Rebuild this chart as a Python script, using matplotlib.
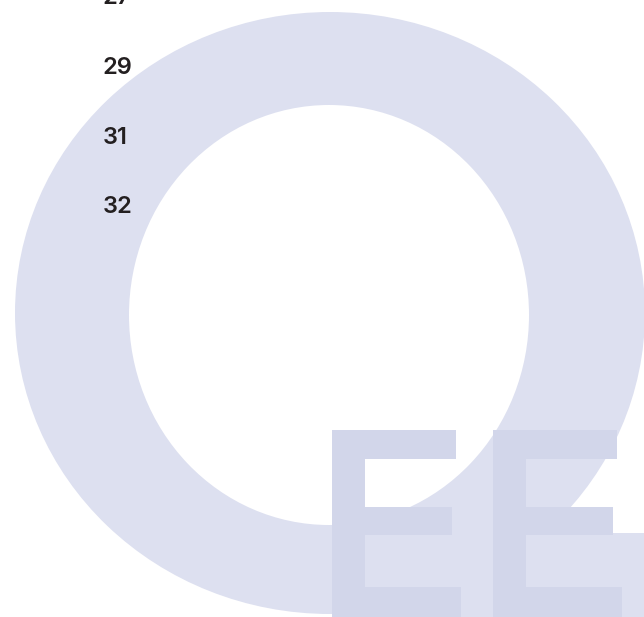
import matplotlib
matplotlib.use("Agg")
import matplotlib.pyplot as plt
from matplotlib.patches import Ellipse, Polygon, Rectangle

# ---- data ----
labels = ["27", "29", "31", "32"]
ring_outer = (330, 313, 630, 602)   # cx, cy, width, height (px)
ring_inner = (329, 315, 400, 420)
letters_x = [332, 493]              # left edge of each "E"

RING_COLOR = "#dde0f0"
LETTER_COLOR = "#d2d6ea"
TEXT_COLOR = "#231f20"

W, H = 644, 617
fig = plt.figure(figsize=(W / 100, H / 100), dpi=100)
ax = fig.add_axes([0, 0, 1, 1])
ax.set_xlim(0, W)
ax.set_ylim(H, 0)
ax.axis("off")

# ring ("O")
cx, cy, w, h = ring_outer
ax.add_patch(Ellipse((cx, cy), w, h, facecolor=RING_COLOR, edgecolor="none", zorder=1))
cx, cy, w, h = ring_inner
ax.add_patch(Ellipse((cx, cy), w, h, facecolor="white", edgecolor="none", zorder=2))
# base block at bottom right
ax.add_patch(Rectangle((400, 533), 300, 120, facecolor=RING_COLOR, edgecolor="none", zorder=2.5))

# letters "E"
def e_shape(x0):
    top, bottom = 430, 640
    stem = 33
    return [
        (x0, top), (x0 + 124, top), (x0 + 124, 459),
        (x0 + stem, 459), (x0 + stem, 507), (x0 + 120, 507),
        (x0 + 120, 535), (x0 + stem, 535), (x0 + stem, 587),
        (x0 + 129, 587), (x0 + 129, bottom), (x0, bottom),
    ]

for x0 in letters_x:
    ax.add_patch(Polygon(e_shape(x0), closed=True, facecolor=LETTER_COLOR,
                         edgecolor="none", zorder=3))

# labels
for i, lab in enumerate(labels):
    ax.text(103, 4.5 + i * 69.6, lab, fontsize=17, fontweight="semibold",
            family=["Inter", "DejaVu Sans"], color=TEXT_COLOR,
            ha="left", va="baseline", zorder=5)

fig.savefig("out.png", dpi=100)
